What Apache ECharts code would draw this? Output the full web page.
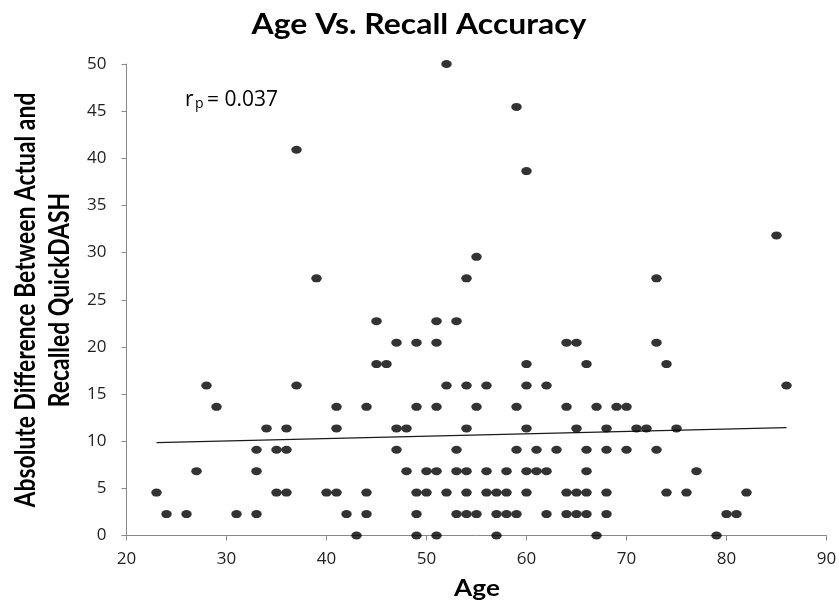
<!DOCTYPE html>
<html>
<head>
<meta charset="utf-8">
<script src="https://cdn.jsdelivr.net/npm/echarts@6/dist/echarts.min.js"></script>
<style>
html,body{margin:0;padding:0;background:#fff;}
#c{width:839px;height:603px;}
</style>
</head>
<body>
<div id="c"></div>
<script>
// Age of each participant (x) and absolute difference in QuickDASH (y)
const ages = [
  43, 49, 51, 57, 67, 79,
  24, 26, 31, 33, 42, 44, 49, 53, 54, 55, 57, 58, 59, 62, 64, 65, 66, 68, 80, 81,
  23, 35, 36, 40, 41, 44, 49, 50, 52, 54, 56, 57, 58, 60, 64, 65, 66, 68, 74, 76, 82,
  27, 33, 48, 50, 51, 53, 54, 56, 58, 60, 61, 62, 66, 77,
  33, 35, 36, 47, 53, 59, 61, 63, 66, 68, 70, 73,
  34, 36, 41, 47, 48, 54, 60, 65, 68, 71, 72, 75,
  29, 41, 44, 49, 51, 55, 59, 64, 67, 69, 70,
  28, 37, 52, 54, 56, 60, 62, 86,
  45, 46, 60, 66, 74,
  47, 49, 51, 64, 65, 73,
  45, 51, 53,
  39, 54, 73,
  55, 85, 60, 37, 59, 52
];
const diffs = [
  0, 0, 0, 0, 0, 0,
  2.27, 2.27, 2.27, 2.27, 2.27, 2.27, 2.27, 2.27, 2.27, 2.27, 2.27, 2.27, 2.27, 2.27, 2.27, 2.27, 2.27, 2.27, 2.27, 2.27,
  4.55, 4.55, 4.55, 4.55, 4.55, 4.55, 4.55, 4.55, 4.55, 4.55, 4.55, 4.55, 4.55, 4.55, 4.55, 4.55, 4.55, 4.55, 4.55, 4.55, 4.55,
  6.82, 6.82, 6.82, 6.82, 6.82, 6.82, 6.82, 6.82, 6.82, 6.82, 6.82, 6.82, 6.82, 6.82,
  9.09, 9.09, 9.09, 9.09, 9.09, 9.09, 9.09, 9.09, 9.09, 9.09, 9.09, 9.09,
  11.36, 11.36, 11.36, 11.36, 11.36, 11.36, 11.36, 11.36, 11.36, 11.36, 11.36, 11.36,
  13.64, 13.64, 13.64, 13.64, 13.64, 13.64, 13.64, 13.64, 13.64, 13.64, 13.64,
  15.91, 15.91, 15.91, 15.91, 15.91, 15.91, 15.91, 15.91,
  18.18, 18.18, 18.18, 18.18, 18.18,
  20.45, 20.45, 20.45, 20.45, 20.45, 20.45,
  22.73, 22.73, 22.73,
  27.27, 27.27, 27.27,
  29.55, 31.82, 38.64, 40.91, 45.45, 50
];
// Linear trend line end points
const trendAges = [23, 86];
const trendDiffs = [9.85, 11.43];

const titleText = 'Age Vs. Recall Accuracy';
const xName = 'Age';
const yNameLines = ['Absolute Difference Between Actual and', 'Recalled QuickDASH'];
const corrLabel = '0.037';

const points = ages.map((a, i) => [a, diffs[i]]);
const trend = trendAges.map((a, i) => [a, trendDiffs[i]]);

const chart = echarts.init(document.getElementById('c'), null, {renderer: 'canvas'});
const axisCol = '#898989';
const labelCol = '#1f1f1f';
const boldFont = 'Lato';
const rot = Math.PI / 2;

chart.setOption({
  animation: false,
  backgroundColor: '#fff',
  grid: {left: 126.5, right: 12.5, top: 64, bottom: 67.5, containLabel: false, outerBoundsMode: 'none'},
  xAxis: {
    type: 'value', min: 20, max: 90, interval: 10,
    axisLine: {show: true, lineStyle: {color: axisCol, width: 1}},
    axisTick: {show: true, inside: false, length: 5, lineStyle: {color: axisCol}},
    axisLabel: {color: labelCol, fontFamily: 'Open Sans', fontSize: 17, margin: 15},
    splitLine: {show: false}
  },
  yAxis: {
    type: 'value', min: 0, max: 50, interval: 5,
    axisLine: {show: true, lineStyle: {color: axisCol, width: 1}},
    axisTick: {show: true, inside: false, length: 5, lineStyle: {color: axisCol}},
    axisLabel: {color: labelCol, fontFamily: 'Open Sans', fontSize: 17, margin: 20},
    splitLine: {show: false}
  },
  graphic: [
    {type: 'text', x: 419, y: 24.5, scaleX: 1.14,
     style: {text: titleText, textAlign: 'center', textVerticalAlign: 'middle',
             fontFamily: boldFont, fontWeight: 'bold', fontSize: 28, fill: '#000'}},
    {type: 'text', x: 477, y: 589, scaleX: 1.14,
     style: {text: xName, textAlign: 'center', textVerticalAlign: 'middle',
             fontFamily: boldFont, fontWeight: 'bold', fontSize: 23, fill: '#000'}},
    {type: 'text', x: 25.5, y: 300, rotation: rot, scaleX: 0.79,
     style: {text: yNameLines[0], textAlign: 'center', textVerticalAlign: 'middle',
             fontFamily: boldFont, fontWeight: 'bold', fontSize: 29, fill: '#000'}},
    {type: 'text', x: 60, y: 300, rotation: rot, scaleX: 0.79,
     style: {text: yNameLines[1], textAlign: 'center', textVerticalAlign: 'middle',
             fontFamily: boldFont, fontWeight: 'bold', fontSize: 29, fill: '#000'}},
    {type: 'text', x: 185, y: 100.2, z: 10,
     style: {text: 'r', textAlign: 'left', textVerticalAlign: 'middle',
             fontFamily: 'Open Sans', fontSize: 21, fill: '#000'}},
    {type: 'text', x: 195, y: 104.5, z: 10,
     style: {text: 'p', textAlign: 'left', textVerticalAlign: 'middle',
             fontFamily: 'Open Sans', fontSize: 14, fill: '#000'}},
    {type: 'text', x: 207, y: 100.2, z: 10,
     style: {text: '= ' + corrLabel, textAlign: 'left', textVerticalAlign: 'middle',
             fontFamily: 'Open Sans', fontSize: 21, fill: '#000'}}
  ],
  series: [{
    type: 'scatter',
    data: points,
    symbol: 'path://M0 50 A50 50 0 1 1 100 50 A50 50 0 1 1 0 50Z',
    symbolSize: [10.5, 8],
    itemStyle: {color: '#000'},
    z: 3
  }, {
    type: 'line',
    data: trend,
    symbol: 'none',
    lineStyle: {color: '#1a1a1a', width: 1.2},
    z: 2
  }]
});
</script>
</body>
</html>
